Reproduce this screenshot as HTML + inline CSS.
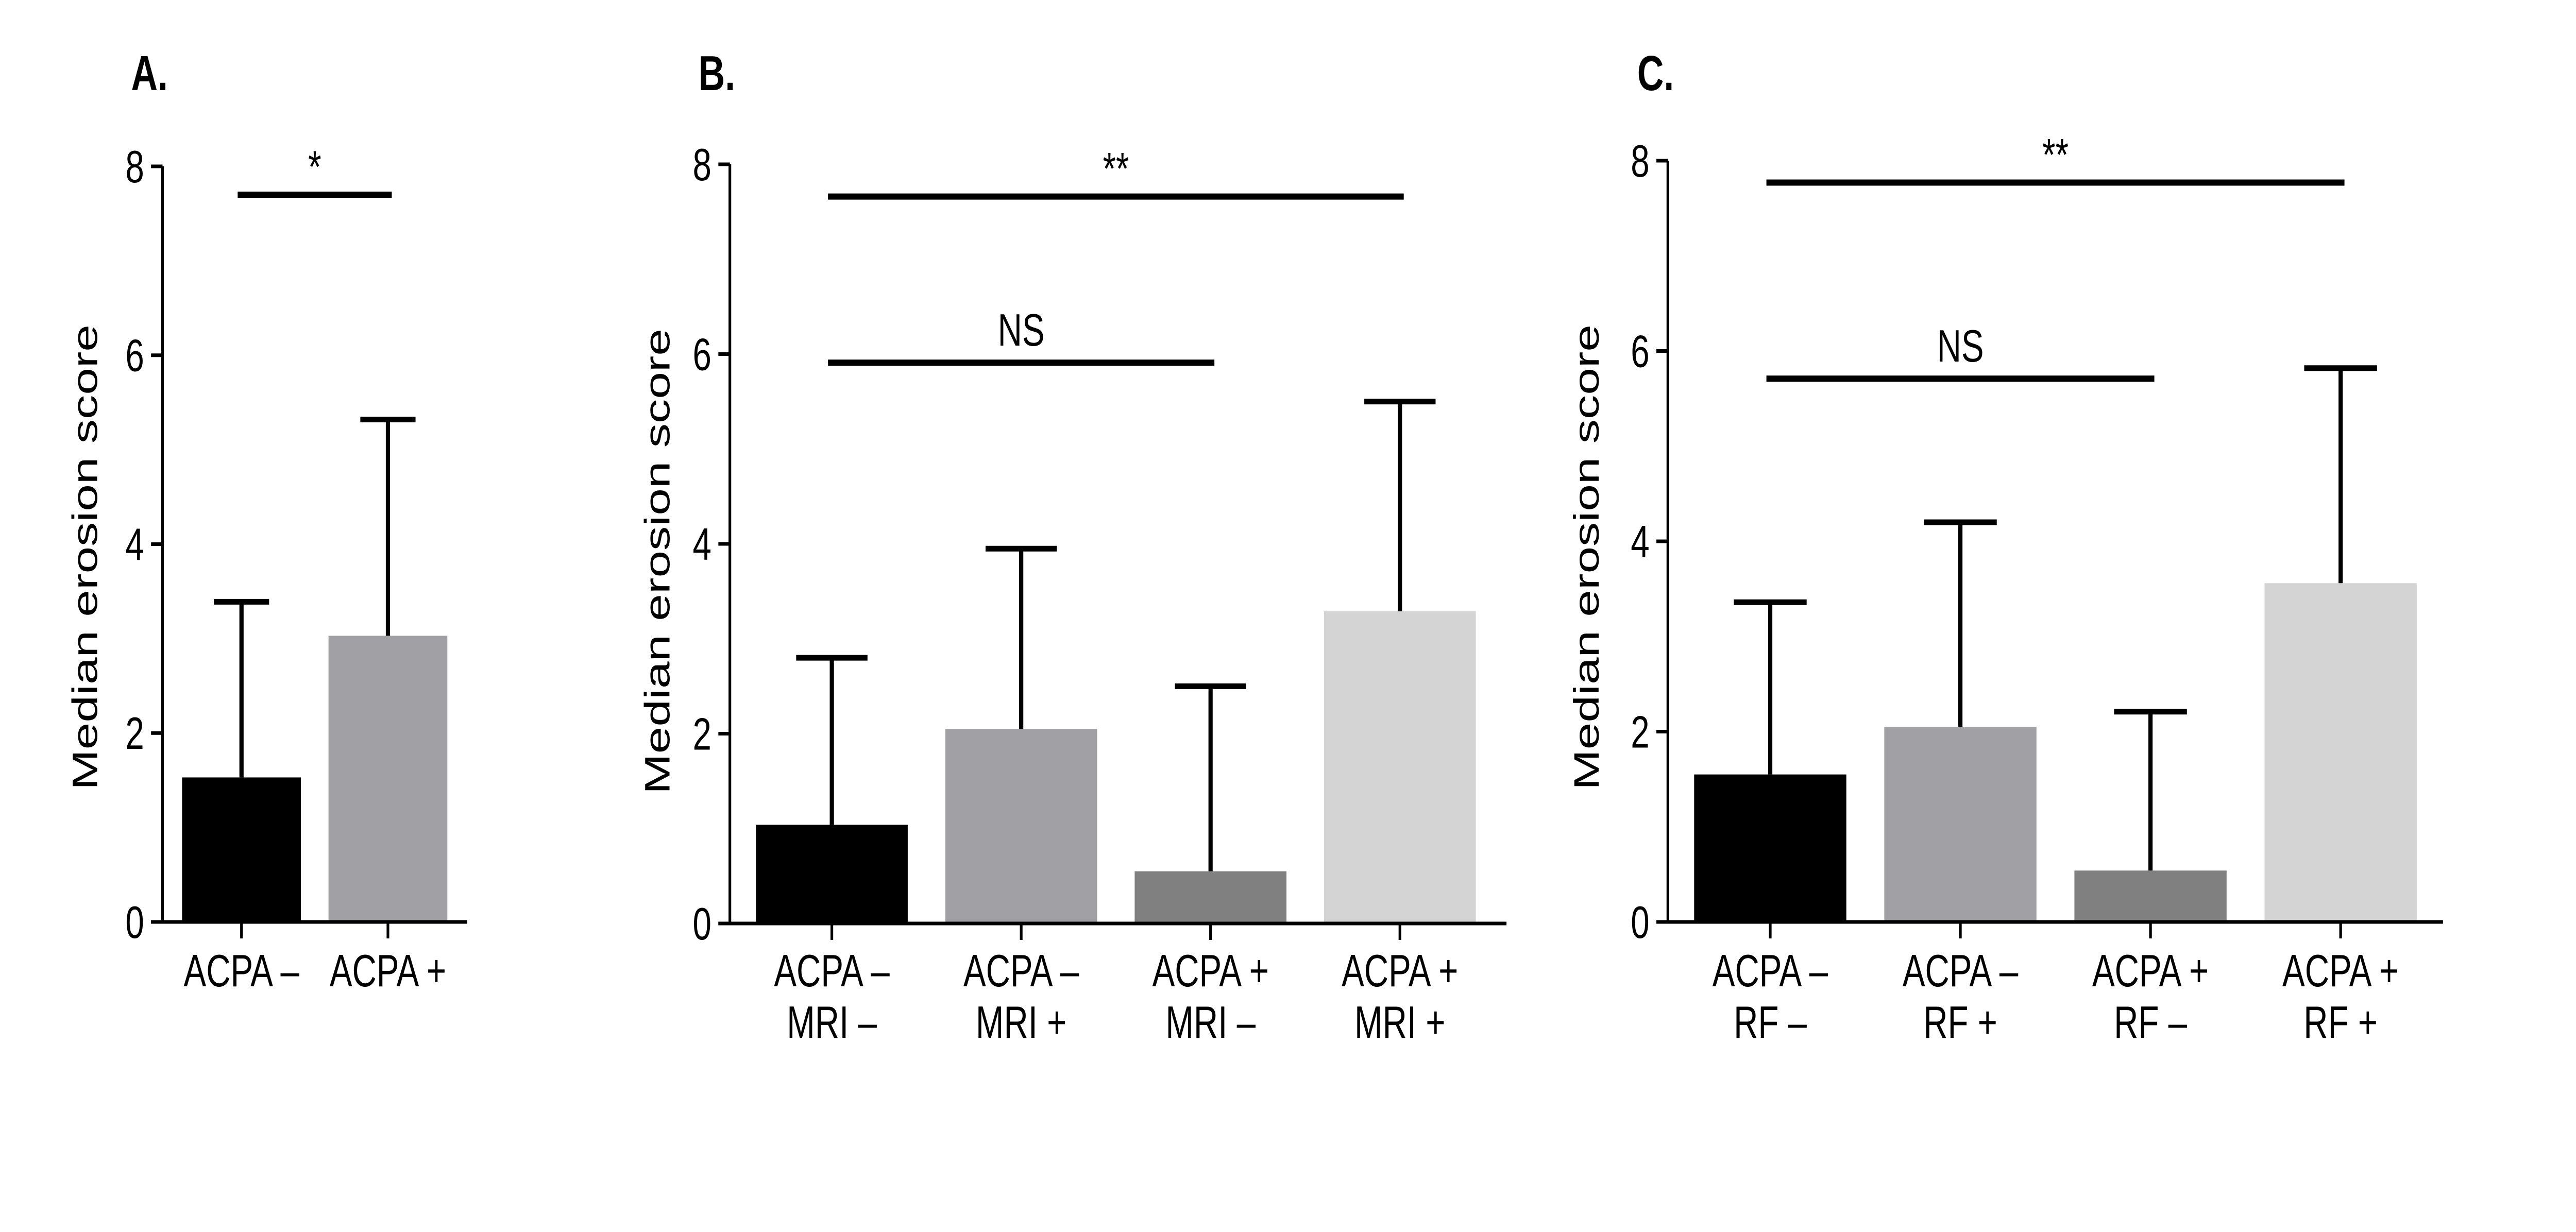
<!DOCTYPE html>
<html><head><meta charset="utf-8">
<style>
html,body{margin:0;padding:0;background:#fff;overflow:hidden;width:100vw;height:100vh;}
svg{display:block;width:100vw;height:100vh;}
text{font-family:"Liberation Sans",Arial,sans-serif;fill:#000;}
</style></head>
<body>
<svg id="fig" viewBox="0 0 6720 2392" preserveAspectRatio="none" xmlns="http://www.w3.org/2000/svg">
<rect x="0" y="0" width="6720" height="2392" fill="#fff"/>
</svg>
<script>
// ---- Panel A data ----
const catsA = [["ACPA –"], ["ACPA +"]];
const valsA = [1.53, 3.03];
const errA = [3.39, 5.32];
const colorsA = ["#000000", "#a1a0a5"];
const sigA = [{from: 0, to: 1, y: 7.70, label: "*"}];
// ---- Panel B data ----
const catsB = [["ACPA –", "MRI –"], ["ACPA –", "MRI +"], ["ACPA +", "MRI –"], ["ACPA +", "MRI +"]];
const valsB = [1.04, 2.05, 0.55, 3.29];
const errB = [2.80, 3.95, 2.50, 5.50];
const colorsB = ["#000000", "#a1a0a5", "#808080", "#d4d4d4"];
const sigB = [{from: 0, to: 3, y: 7.66, label: "**"}, {from: 0, to: 2, y: 5.91, label: "NS"}];
// ---- Panel C data ----
const catsC = [["ACPA –", "RF –"], ["ACPA –", "RF +"], ["ACPA +", "RF –"], ["ACPA +", "RF +"]];
const valsC = [1.55, 2.05, 0.54, 3.56];
const errC = [3.36, 4.20, 2.21, 5.82];
const colorsC = ["#000000", "#a1a0a5", "#808080", "#d4d4d4"];
const sigC = [{from: 0, to: 3, y: 7.77, label: "**"}, {from: 0, to: 2, y: 5.71, label: "NS"}];
const yTicks = [0, 2, 4, 6, 8];

const NS = "http://www.w3.org/2000/svg";
const svg = document.getElementById("fig");
function mk(tag, attrs, parent) {
  const e = document.createElementNS(NS, tag);
  for (const k in attrs) e.setAttribute(k, attrs[k]);
  (parent || svg).appendChild(e);
  return e;
}

function panel(cfg) {
  const g = mk("g", {});
  
  
  const y = v => cfg.y0 - v * (cfg.y0 - cfg.y8) / 8;
  const x = i => cfg.c0 + i * cfg.step;
  const L = mk("text", {x: cfg.letterX, y: 175, "font-size": 96, "font-weight": "bold"}, g);
  L.textContent = cfg.letter;
  
  
  const t = mk("text", {x: 0, y: 0, "font-size": 92, "text-anchor": "middle", "dominant-baseline": "central",
    textLength: 904, lengthAdjust: "spacingAndGlyphs",
    transform: `translate(${cfg.titleX},${cfg.titleY}) rotate(-90)`}, g);
  t.textContent = "Median erosion score";
  
  
  cfg.vals.forEach((v, i) => {
    const r = mk("rect", {x: x(i) - cfg.bw / 2, y: y(v), width: cfg.bw, height: y(0) - y(v), fill: cfg.colors[i]}, g);
    
    
    const eb = mk("path", {d: `M${x(i)},${y(v)} V${y(cfg.err[i])} M${x(i) - cfg.cap},${y(cfg.err[i])} H${x(i) + cfg.cap}`,
      stroke: "#000", "stroke-width": 11, fill: "none"}, g);
    
    
  });
  const ya = mk("path", {d: `M${cfg.ax},${y(8)} V${y(0)}`, stroke: "#000", "stroke-width": 7, fill: "none"}, g);
  
  
  yTicks.forEach(tv => {
    const tk = mk("path", {d: `M${cfg.ax - 30},${y(tv)} H${cfg.ax}`, stroke: "#000", "stroke-width": 7}, g);
    
    
    const tl = mk("text", {x: cfg.ax - 48, y: y(tv) + 31, "font-size": 88, "text-anchor": "end"}, g);
    tl.textContent = tv;
    
    
  });
  const xa = mk("path", {d: `M${cfg.ax - 30},${y(0)} H${cfg.axEnd}`, stroke: "#000", "stroke-width": 7, fill: "none"}, g);
  
  
  cfg.cats.forEach((c, i) => {
    const tk = mk("path", {d: `M${x(i)},${y(0)} V${y(0) + 32}`, stroke: "#000", "stroke-width": 7}, g);
    
    
    c.forEach((line, j) => {
      const tl = mk("text", {x: x(i), y: 1915 + j * 100, "font-size": 88, "text-anchor": "middle"}, g);
      tl.textContent = line;
      
      
    });
  });
  cfg.sig.forEach(s => {
    const x1 = x(s.from) - 10, x2 = x(s.to) + 10;
    const ln = mk("path", {d: `M${x1},${y(s.y)} H${x2}`, stroke: "#000", "stroke-width": 12}, g);
    
    
    const st = mk("text", {x: (x1 + x2) / 2, y: y(s.y) - (s.label === "NS" ? 33 : 24), "font-size": 88, "text-anchor": "middle"}, g);
    st.textContent = s.label;
    
    
  });
}

panel({name: "panel-a", letter: "A.", letterX: 342, titleX: 223, titleY: 1082,
  ax: 424, axEnd: 1219, y0: 1790, y8: 323, c0: 630, step: 382, bw: 310, cap: 72,
  cats: catsA, vals: valsA, err: errA, colors: colorsA, sig: sigA});
panel({name: "panel-b", letter: "B.", letterX: 1822, titleX: 1716, titleY: 1090,
  ax: 1904, axEnd: 3930, y0: 1793, y8: 319, c0: 2170, step: 494, bw: 396, cap: 93,
  cats: catsB, vals: valsB, err: errB, colors: colorsB, sig: sigB});
panel({name: "panel-c", letter: "C.", letterX: 4271, titleX: 4140, titleY: 1082,
  ax: 4351, axEnd: 6373, y0: 1790, y8: 312, c0: 4618, step: 496, bw: 397, cap: 95,
  cats: catsC, vals: valsC, err: errC, colors: colorsC, sig: sigC});
</script>
</body></html>
